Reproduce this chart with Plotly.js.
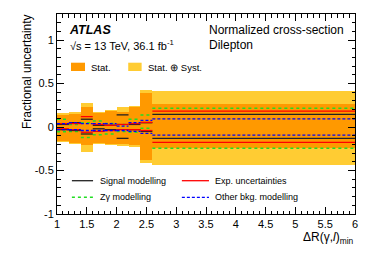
<!DOCTYPE html>
<html>
<head>
<meta charset="utf-8">
<script src="https://cdn.plot.ly/plotly-3.0.1.min.js"></script>
<style>html,body{margin:0;padding:0;background:#fff;}#chart{width:374px;height:268px;}</style>
</head>
<body>
<div id="chart"></div>
<script>
// Bin edges of DeltaR(gamma,l)_min
var binEdges = [1.0, 1.2, 1.4, 1.6, 1.8, 2.0, 2.2, 2.4, 2.6, 6.0];

// Stat. band (up / down)
var statUp   = [0.14, 0.15, 0.235, 0.165, 0.185, 0.175, 0.235, 0.395, 0.265];
var statDown = [-0.155, -0.18, -0.21, -0.18, -0.195, -0.20, -0.21, -0.38, -0.245];
// Stat. (+) Syst. band (up / down)
var totUp    = [0.165, 0.175, 0.28, 0.175, 0.20, 0.225, 0.245, 0.425, 0.417];
var totDown  = [-0.17, -0.20, -0.29, -0.19, -0.21, -0.22, -0.23, -0.41, -0.435];

// Individual systematic sources (up / down)
var signalUp   = [0.03, 0.05, 0.09, 0.02, 0.02, 0.14, 0.03, 0.05, 0.146];
var signalDown = [-0.03, -0.04, -0.08, -0.02, -0.03, -0.13, -0.03, -0.05, -0.13];
var expUp      = [0.04, 0.04, 0.12, 0.03, 0.02, 0.03, 0.04, 0.054, 0.184];
var expDown    = [-0.02, -0.03, -0.06, -0.05, -0.04, -0.03, -0.03, -0.04, -0.176];
var zgUp       = [0.09, 0.03, 0.05, 0.07, 0.04, 0.03, 0.09, 0.138, 0.215];
var zgDown     = [-0.055, -0.05, -0.12, -0.09, -0.08, -0.05, -0.06, -0.015, -0.245];
var bkgUp      = [0.04, 0.05, 0.04, 0.04, 0.04, 0.01, 0.05, 0.077, 0.095];
var bkgDown    = [-0.03, -0.03, -0.04, -0.04, -0.04, -0.04, -0.05, -0.072, -0.092];

var xTickVals = [1, 1.5, 2, 2.5, 3, 3.5, 4, 4.5, 5, 5.5, 6];
var xTickText = ['1', '1.5', '2', '2.5', '3', '3.5', '4', '4.5', '5', '5.5', '6'];
var yTickVals = [-1, -0.5, 0, 0.5, 1];
var yTickText = ['-1', '-0.5', '0', '0.5', '1'];

var FONT = 'Liberation Sans, Arial, Helvetica, sans-serif';
var C_STAT = '#ff9900', C_TOT = '#ffcc33';
var C_SIG = '#222222', C_EXP = '#ff0000', C_ZG = '#22dd22', C_BKG = '#0000ff';
var BKG_DASH = '3px,2px';

var centers = [], widths = [];
for (var i = 0; i < binEdges.length - 1; i++) {
  centers.push((binEdges[i] + binEdges[i + 1]) / 2);
  widths.push(binEdges[i + 1] - binEdges[i]);
}
function band(up, down, color) {
  return {
    type: 'bar', x: centers, width: widths, base: down,
    y: up.map(function (u, k) { return u - down[k]; }),
    marker: {color: color, line: {width: 0}}, showlegend: false, hoverinfo: 'skip'
  };
}
function steps(vals, color, dash, w) {
  var xs = [], ys = [];
  for (var k = 0; k < vals.length; k++) {
    xs.push(binEdges[k], binEdges[k + 1], null);
    ys.push(vals[k], vals[k], null);
  }
  return {type: 'scatter', mode: 'lines', x: xs, y: ys, connectgaps: false,
    line: {color: color, dash: dash, width: w}, showlegend: false, hoverinfo: 'skip'};
}

var traces = [
  band(totUp, totDown, C_TOT),
  band(statUp, statDown, C_STAT),
  steps(zgUp, C_ZG, 'dot', 1.5), steps(zgDown, C_ZG, 'dot', 1.5),
  steps(signalUp, C_SIG, 'solid', 1.3), steps(signalDown, C_SIG, 'solid', 1.3),
  steps(expUp, C_EXP, 'solid', 1.3), steps(expDown, C_EXP, 'solid', 1.3),
  steps(bkgUp, C_BKG, BKG_DASH, 1.3), steps(bkgDown, C_BKG, BKG_DASH, 1.3)
];

var axisCommon = {
  showgrid: false, zeroline: false, showline: true, linecolor: '#000', linewidth: 1,
  mirror: 'allticks', ticks: 'inside', ticklen: 7, tickwidth: 1, tickcolor: '#000',
  tickfont: {family: FONT, size: 11, color: '#000'}, tickmode: 'array'
};
var xaxis = Object.assign({}, axisCommon, {
  range: [1, 6], tickvals: xTickVals, ticktext: xTickText,
  minor: {dtick: 0.1, ticks: 'inside', ticklen: 3.5, tickwidth: 1, tickcolor: '#000'}
});
var yaxis = Object.assign({}, axisCommon, {
  range: [-1, 1.3], tickvals: yTickVals, ticktext: yTickText,
  minor: {dtick: 0.1, ticks: 'inside', ticklen: 3.5, tickwidth: 1, tickcolor: '#000'}
});

function txt(x, y, text, size, extra) {
  return Object.assign({xref: 'paper', yref: 'paper', x: x, y: y, text: text, showarrow: false,
    xanchor: 'left', yanchor: 'middle', font: {family: FONT, size: size, color: '#000'}}, extra || {});
}
var annotations = [
  txt(-0.102, 1.01, 'Fractional uncertainty', 12, {textangle: -90, xanchor: 'center', yanchor: 'top'}),
  txt(1.003, -0.072, '\u0394R(\u03b3,<i>l</i>)<sub>min</sub>', 12, {xanchor: 'right', yanchor: 'top'}),
  txt(0.035, 0.92, '<b><i>ATLAS</i></b>', 12.5),
  txt(0.037, 0.845, '\u221as = 13 TeV, 36.1 fb<sup>-1</sup>', 11),
  txt(0.503, 0.92, 'Normalized cross-section', 12),
  txt(0.503, 0.845, 'Dilepton', 12),
  txt(0.106, 0.735, 'Stat.', 9.5),
  txt(0.299, 0.735, 'Stat. \u2295 Syst.', 9.5),
  txt(0.136, 0.1665, 'Signal modelling', 9),
  txt(0.525, 0.1665, 'Exp. uncertainties', 9),
  txt(0.136, 0.0835, 'Z\u03b3 modelling', 9),
  txt(0.525, 0.0835, 'Other bkg. modelling', 9)
];
var shapes = [
  {type: 'rect', xref: 'paper', yref: 'paper', x0: 0.047, x1: 0.094, y0: 0.715, y1: 0.7565, fillcolor: C_STAT, line: {width: 0}},
  {type: 'rect', xref: 'paper', yref: 'paper', x0: 0.239, x1: 0.284, y0: 0.715, y1: 0.7565, fillcolor: C_TOT, line: {width: 0}},
  {type: 'line', xref: 'paper', yref: 'paper', x0: 0.050, x1: 0.121, y0: 0.1665, y1: 0.1665, line: {color: C_SIG, width: 1.3}},
  {type: 'line', xref: 'paper', yref: 'paper', x0: 0.419, x1: 0.510, y0: 0.1665, y1: 0.1665, line: {color: C_EXP, width: 1.3}},
  {type: 'line', xref: 'paper', yref: 'paper', x0: 0.050, x1: 0.121, y0: 0.0835, y1: 0.0835, line: {color: C_ZG, width: 1.5, dash: 'dot'}},
  {type: 'line', xref: 'paper', yref: 'paper', x0: 0.419, x1: 0.510, y0: 0.0835, y1: 0.0835, line: {color: C_BKG, width: 1.3, dash: BKG_DASH}}
];

var layout = {
  width: 374, height: 268,
  margin: {l: 57, r: 19, t: 14, b: 54, pad: 0},
  paper_bgcolor: '#fff', plot_bgcolor: '#fff',
  barmode: 'overlay', bargap: 0, showlegend: false,
  font: {family: FONT, size: 11, color: '#000'},
  xaxis: xaxis, yaxis: yaxis, annotations: annotations, shapes: shapes
};
Plotly.newPlot('chart', traces, layout, {staticPlot: true, displayModeBar: false});
</script>
</body>
</html>
